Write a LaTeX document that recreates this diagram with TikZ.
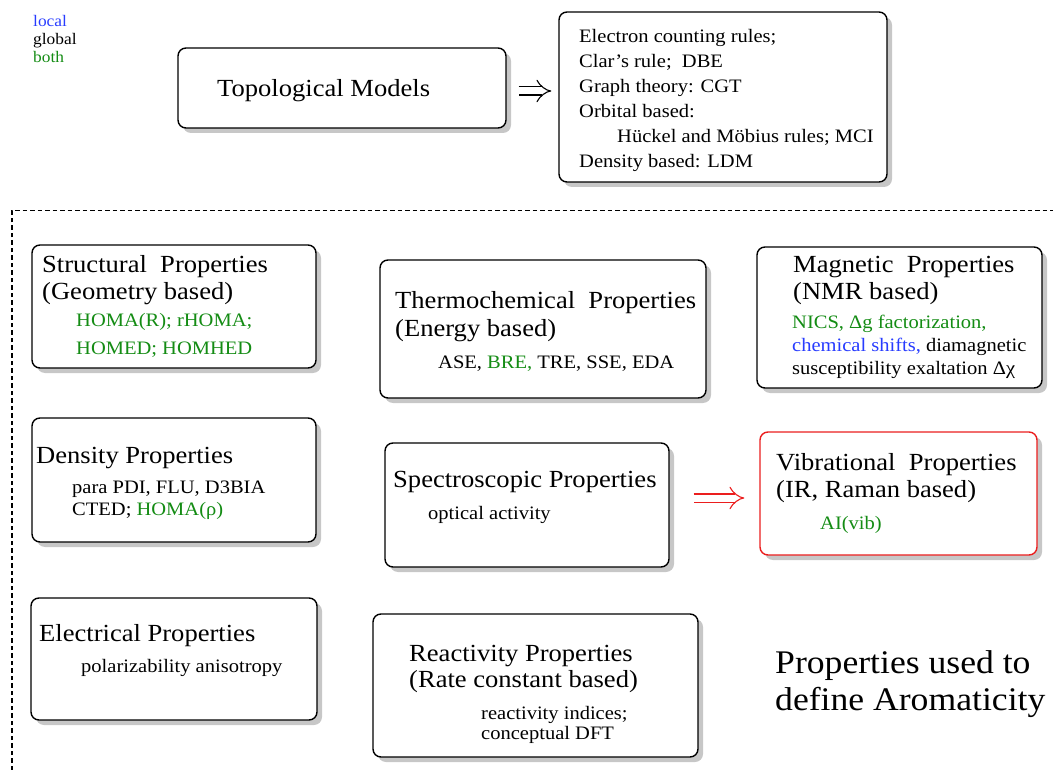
\documentclass[tikz,border=0pt]{standalone}
\usepackage{fontspec}
\setmainfont{Liberation Serif}[FakeStretch=1.08]
\usetikzlibrary{arrows.meta,shadows}
\definecolor{localblue}{RGB}{40,60,255}
\definecolor{bothgreen}{RGB}{20,140,20}
\definecolor{vibred}{RGB}{235,30,30}
\tikzset{
  propbox/.style={draw, line width=1.4pt, rounded corners=8pt, fill=white,
    drop shadow={shadow xshift=5pt, shadow yshift=-5pt, fill=black!22, opacity=1}},
  % text nodes sit on the baseline of their last line
  hdtext/.style={anchor=base west, inner sep=0pt, align=left, font=\fontsize{24.6}{#1}\selectfont},
  hdtext/.default=27.3,
  bdtext/.style={anchor=base west, inner sep=0pt, align=left, font=\fontsize{19}{#1}\selectfont},
  bdtext/.default=25,
  dblarrow/.style={double, double distance=7pt, line width=1.1pt, -{Implies}},
}
\begin{document}
\begin{tikzpicture}[x=1pt, y=-1pt]
\useasboundingbox (0,0) rectangle (1053,770);

% legend
\node[anchor=base west, inner sep=0pt, align=left, font=\fontsize{16.1}{18}\selectfont] (legend) at (33,63)
  {\textcolor{localblue}{local}\\global\\\textcolor{bothgreen}{both}};

% models
\node[propbox, minimum width=328pt, minimum height=80pt] (topo) at (342,88) {};
\node[hdtext] (topotxt) at (217,97) {Topological Models};
\node[propbox, minimum width=328pt, minimum height=170pt] (rules) at (723,97) {};
\node[bdtext] (rulestxt) at (579,167.7)
  {Electron counting rules;\\ Clar's rule;\ \ DBE\\ Graph theory: CGT\\ Orbital based:\\
   \hspace*{38pt}Hückel and Möbius rules; MCI\\ Density based: LDM};
\draw[dblarrow, shorten <=12pt, shorten >=7pt] ([yshift=-3pt]topo.east) -- ([yshift=6pt]rules.west);

\draw[dash pattern=on 4.5pt off 3pt, line width=1.3pt] (12,770) -- (12,210.5) -- (1053,210.5);

% first row
\node[propbox, minimum width=284pt, minimum height=123pt] (struct) at (174,306.5) {};
\node[hdtext] (structhd) at (42,300) {Structural\ \ Properties\\(Geometry based)};
\node[bdtext=27.3, text=bothgreen] (structbd) at (76,354) {HOMA(R); rHOMA;\\HOMED; HOMHED};

\node[propbox, minimum width=326pt, minimum height=138pt] (thermo) at (543,329) {};
\node[hdtext=28] (thermohd) at (395,336) {Thermochemical\ \ Properties\\(Energy based)};
\node[bdtext] (thermobd) at (438,368) {ASE, \textcolor{bothgreen}{BRE,} TRE, SSE, EDA};

\node[propbox, minimum width=285pt, minimum height=141pt] (magnet) at (899.5,317.5) {};
\node[hdtext=27] (magnethd) at (793,300) {Magnetic\ \ Properties\\(NMR based)};
\node[bdtext=23] (magnetbd) at (792,374)
  {\textcolor{bothgreen}{NICS, Δg factorization,}\\
   \textcolor{localblue}{chemical shifts,} diamagnetic\\
   susceptibility exaltation Δχ};

% second row
\node[propbox, minimum width=284pt, minimum height=124pt] (dens) at (174,480) {};
\node[hdtext] (denshd) at (36,463) {Density Properties};
\node[bdtext=22] (densbd) at (72,515) {para PDI, FLU, D3BIA\\CTED; \textcolor{bothgreen}{HOMA(ρ)}};

\node[propbox, minimum width=284pt, minimum height=124pt] (spec) at (527,505) {};
\node[hdtext] (spechd) at (393,487) {Spectroscopic Properties};
\node[bdtext] (specbd) at (428,519) {optical activity};

\node[propbox, draw=vibred, minimum width=277pt, minimum height=123pt] (vib) at (898.5,493.5) {};
\node[hdtext=27] (vibhd) at (776,497) {Vibrational\ \ Properties\\(IR, Raman based)};
\node[bdtext, text=bothgreen] (vibbd) at (820,529) {AI(vib)};
\draw[dblarrow, vibred, shorten <=24pt, shorten >=15pt] ([yshift=7pt]spec.east) -- ([yshift=-4.5pt]vib.west);

% third row
\node[propbox, minimum width=286pt, minimum height=122pt] (elec) at (174,659) {};
\node[hdtext] (elechd) at (39,641) {Electrical Properties};
\node[bdtext] (elecbd) at (81,672) {polarizability anisotropy};

\node[propbox, minimum width=325pt, minimum height=143pt] (react) at (535.5,685.5) {};
\node[hdtext=26.5] (reacthd) at (409,687.5) {Reactivity Properties\\(Rate constant based)};
\node[bdtext=20] (reactbd) at (481,739) {reactivity indices;\\conceptual DFT};

\node[anchor=base west, inner sep=0pt, align=left, font=\fontsize{33}{37}\selectfont] (title) at (775,710)
  {Properties used to\\define Aromaticity};
\end{tikzpicture}
\end{document}
